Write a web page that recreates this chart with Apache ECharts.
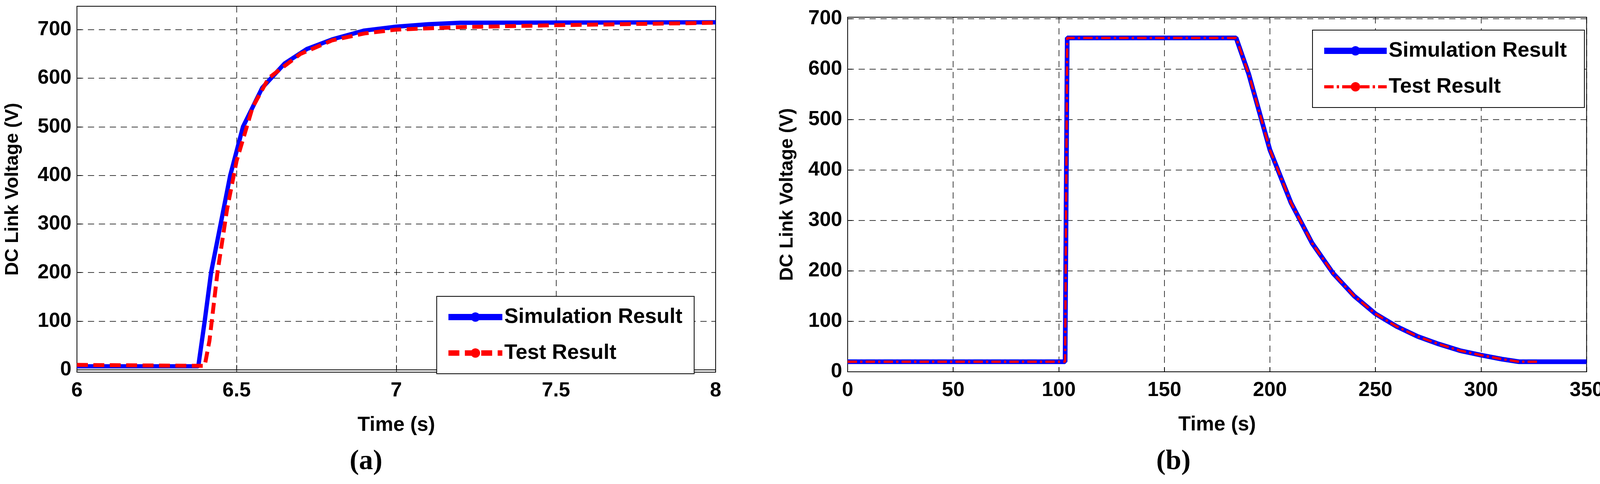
<!DOCTYPE html>
<html>
<head>
<meta charset="utf-8">
<script src="https://cdn.jsdelivr.net/npm/echarts@6/dist/echarts.min.js"></script>
<style>
  html, body { margin: 0; padding: 0; background: #fff; }
  #chart { width: 4108px; height: 1238px; }
</style>
</head>
<body>
<div id="chart"></div>
<script>
// (a) start-up transient, time in s, voltage in V
const simA = [[6, 7], [6.38, 7], [6.40, 100], [6.42, 200], [6.45, 300], [6.48, 400], [6.52, 500],
  [6.58, 580], [6.65, 630], [6.72, 660], [6.8, 680], [6.9, 698], [7.0, 706], [7.1, 711], [7.2, 714], [8, 715]];
const testA = [[6, 10], [6.2, 9], [6.40, 8], [6.415, 60], [6.44, 200], [6.47, 330], [6.5, 430], [6.55, 540],
  [6.6, 600], [6.7, 650], [6.8, 678], [6.9, 692], [7.0, 700], [7.2, 705], [7.5, 709], [7.8, 712], [8, 714]];
// (b) pulse and decay
const simB = [[0, 20], [103, 20], [104, 662], [184, 662], [190, 590], [200, 440], [210, 335], [220, 255],
  [230, 195], [240, 150], [250, 115], [260, 90], [270, 70], [280, 55], [290, 42], [300, 33], [310, 25], [318, 20], [350, 20]];
const testB = [[0, 20], [103, 20], [104, 662], [184, 662], [190, 590], [200, 440], [210, 335], [220, 255],
  [230, 195], [240, 150], [250, 115], [260, 90], [270, 70], [280, 55], [290, 42], [300, 33], [310, 25], [318, 20], [327, 20]];
const yTicks = [0, 100, 200, 300, 400, 500, 600, 700];
const xTicksA = [6, 6.5, 7, 7.5, 8];
const xTicksB = [0, 50, 100, 150, 200, 250, 300, 350];
const nameSim = 'Simulation Result';
const nameTest = 'Test Result';

const narrow = '"Liberation Sans Narrow", "Liberation Sans", Arial, sans-serif';
const dash = { type: [16, 12], color: '#000', width: 1.5 };

function xAxis(idx, min, max, ticks) {
  return {
    type: 'value', gridIndex: idx, min: min, max: max,
    name: 'Time (s)', nameLocation: 'middle', nameGap: 110,
    nameTextStyle: { fontFamily: narrow, fontWeight: 'bold', fontSize: 52, color: '#000' },
    axisLine: { lineStyle: { color: '#000', width: 2 } },
    axisTick: { show: true, inside: true, length: 12, customValues: ticks, lineStyle: { color: '#000', width: 2 } },
    axisLabel: { customValues: ticks, fontFamily: narrow, fontWeight: 'bold', fontSize: 52, color: '#000', margin: 22 },
    splitLine: { show: true, lineStyle: dash }
  };
}
function yAxis(idx, min, max, ticks, gap) {
  return {
    type: 'value', gridIndex: idx, min: min, max: max,
    name: 'DC Link Voltage (V)', nameLocation: 'middle', nameGap: gap,
    nameTextStyle: { fontFamily: 'Liberation Sans, Arial', fontWeight: 'bold', fontSize: 48, color: '#000' },
    axisLine: { lineStyle: { color: '#000', width: 2 } },
    axisTick: { show: true, inside: true, length: 12, customValues: ticks, lineStyle: { color: '#000', width: 2 } },
    axisLabel: { customValues: ticks, fontFamily: narrow, fontWeight: 'bold', fontSize: 52, color: '#000', margin: 14 },
    splitLine: { show: true, lineStyle: dash }
  };
}
function legend(left, top, w) {
  return {
    orient: 'vertical', left: left, top: top,
    itemWidth: w, itemHeight: 30, itemGap: 38,
    padding: [26, 30, 26, 22],
    backgroundColor: '#fff', borderColor: '#000', borderWidth: 2,
    textStyle: { fontFamily: narrow, fontWeight: 'bold', fontSize: 54, color: '#000' }
  };
}

const chart = echarts.init(document.getElementById('chart'));
chart.setOption({
  animation: false,
  backgroundColor: '#fff',
  grid: [
    { left: 197, top: 16, width: 1635, height: 936, show: true, borderColor: '#000', borderWidth: 2 },
    { left: 2170, top: 44, width: 1895, height: 907, show: true, borderColor: '#000', borderWidth: 2 }
  ],
  xAxis: [xAxis(0, 6, 8, xTicksA), xAxis(1, 0, 350, xTicksB)],
  yAxis: [yAxis(0, -5, 748, yTicks, 140), yAxis(1, 0, 703, yTicks, 130)],
  legend: [
    { ...legend(1118, 758, 138), data: [
      { name: nameSim, lineStyle: { width: 16 } },
      { name: nameTest, lineStyle: { width: 14 } }] },
    { ...legend(3360, 77, 160), data: [
      { name: nameSim + ' ', lineStyle: { width: 16 } },
      { name: nameTest + ' ', lineStyle: { width: 8 } }] }
  ],
  graphic: [
    { type: 'text', left: 895, top: 1145, style: { text: '(a)', font: 'bold 72px "Liberation Serif", "Times New Roman", serif', fill: '#000' } },
    { type: 'text', left: 2960, top: 1145, style: { text: '(b)', font: 'bold 72px "Liberation Serif", "Times New Roman", serif', fill: '#000' } }
  ],
  series: [
    { name: nameSim, type: 'line', xAxisIndex: 0, yAxisIndex: 0, data: simA, symbol: 'none',
      lineStyle: { color: '#0000ff', width: 11 }, itemStyle: { color: '#0000ff' } },
    { name: nameTest, type: 'line', xAxisIndex: 0, yAxisIndex: 0, data: testA, symbol: 'none',
      lineStyle: { color: '#ff0000', width: 10, type: [28, 14] }, itemStyle: { color: '#ff0000' } },
    { name: nameSim + ' ', type: 'line', xAxisIndex: 1, yAxisIndex: 1, data: simB, symbol: 'none',
      lineStyle: { color: '#0000ff', width: 12 }, itemStyle: { color: '#0000ff' } },
    { name: nameTest + ' ', type: 'line', xAxisIndex: 1, yAxisIndex: 1, data: testB, symbol: 'none',
      lineStyle: { color: '#ff0000', width: 6, type: [24, 8, 6, 8] }, itemStyle: { color: '#ff0000' } }
  ]
});
</script>
</body>
</html>
